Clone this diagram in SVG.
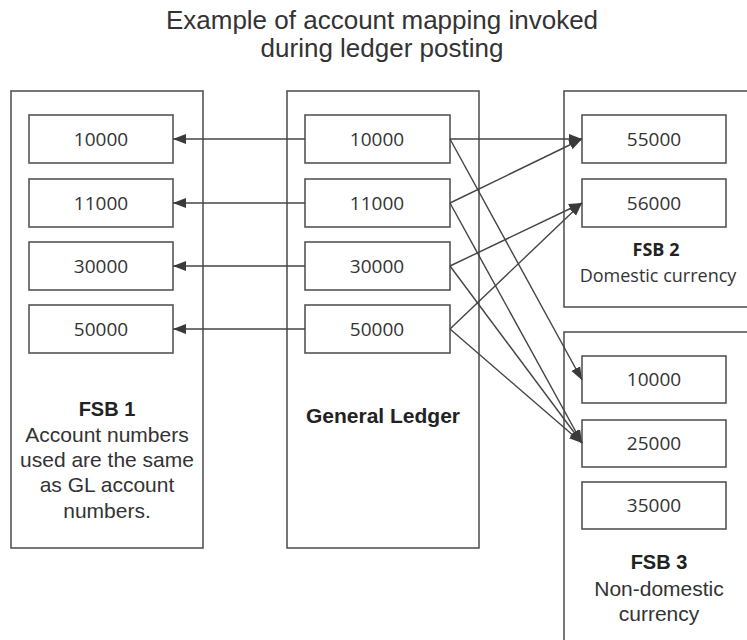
<svg xmlns="http://www.w3.org/2000/svg" width="747" height="640" viewBox="0 0 747 640">
<style>
.outer{fill:#fff;stroke:#555;stroke-width:1.6}
.box{fill:#fff;stroke:#555;stroke-width:1.6}
.num{font-family:"Open Sans","DejaVu Sans",sans-serif;font-size:19px;fill:#333;text-anchor:middle}
.seg{font-family:"Open Sans","DejaVu Sans",sans-serif;font-size:18px;fill:#333;text-anchor:middle}
.ar{font-family:"Liberation Sans",Arial,sans-serif;font-size:21px;fill:#333;text-anchor:middle}
.b{font-weight:bold;fill:#222}
.conn path{fill:none;stroke:#444;stroke-width:1.4;marker-end:url(#ah)}
</style>
<defs>
<marker id="ah" markerUnits="userSpaceOnUse" markerWidth="14" markerHeight="12" refX="13" refY="6" orient="auto">
<path d="M0,1 L13,6 L0,11 z" fill="#3a3a3a"/>
</marker>
</defs>
<rect width="747" height="640" fill="#fff"/>
<g id="title">
<text x="382" y="29" style="font-family:'Liberation Sans',Arial,sans-serif;font-size:26px;fill:#333;text-anchor:middle">Example of account mapping invoked</text>
<text x="382" y="57" style="font-family:'Liberation Sans',Arial,sans-serif;font-size:26px;fill:#333;text-anchor:middle">during ledger posting</text>
</g>
<g id="fsb1">
<rect class="outer" x="11" y="91" width="192" height="457"/>
<rect class="box" x="29" y="115" width="144" height="48"/><text class="num" x="101" y="146">10000</text>
<rect class="box" x="29" y="179" width="144" height="48"/><text class="num" x="101" y="210">11000</text>
<rect class="box" x="29" y="242" width="144" height="48"/><text class="num" x="101" y="273">30000</text>
<rect class="box" x="29" y="305" width="144" height="48"/><text class="num" x="101" y="336">50000</text>
<text class="ar b" x="107" y="416" style="font-size:20px">FSB 1</text>
<text class="ar" x="107" y="442">Account numbers</text>
<text class="ar" x="107" y="467">used are the same</text>
<text class="ar" x="107" y="492">as GL account</text>
<text class="ar" x="107" y="518">numbers.</text>
</g>
<g id="gl">
<rect class="outer" x="287" y="91" width="192" height="457"/>
<rect class="box" x="305" y="115" width="145" height="48"/><text class="num" x="377" y="146">10000</text>
<rect class="box" x="305" y="179" width="145" height="48"/><text class="num" x="377" y="210">11000</text>
<rect class="box" x="305" y="242" width="145" height="48"/><text class="num" x="377" y="273">30000</text>
<rect class="box" x="305" y="305" width="145" height="48"/><text class="num" x="377" y="336">50000</text>
<text class="ar b" x="383" y="423">General Ledger</text>
</g>
<g id="fsb2">
<rect class="outer" x="564" y="91" width="200" height="216"/>
<rect class="box" x="582" y="115" width="144" height="48"/><text class="num" x="654" y="146">55000</text>
<rect class="box" x="582" y="179" width="144" height="48"/><text class="num" x="654" y="210">56000</text>
<text class="seg b" x="656" y="256">FSB 2</text>
<text class="seg" x="658" y="282">Domestic currency</text>
</g>
<g id="fsb3">
<rect class="outer" x="564" y="332" width="200" height="320"/>
<rect class="box" x="582" y="356" width="144" height="47"/><text class="num" x="654" y="386">10000</text>
<rect class="box" x="582" y="420" width="144" height="47"/><text class="num" x="654" y="450">25000</text>
<rect class="box" x="582" y="482" width="144" height="47"/><text class="num" x="654" y="512">35000</text>
<text class="ar b" x="659" y="569" style="font-size:20px">FSB 3</text>
<text class="ar" x="659" y="596">Non-domestic</text>
<text class="ar" x="659" y="621">currency</text>
</g>
<g id="connectors" class="conn">
<path d="M305,139 L173,139"/>
<path d="M305,203 L173,203"/>
<path d="M305,266 L173,266"/>
<path d="M305,329 L173,329"/>
<path d="M450,139 L582,139"/>
<path d="M450,139 L582,380"/>
<path d="M450,203 L582,139"/>
<path d="M450,203 L582,443"/>
<path d="M450,266 L582,203"/>
<path d="M450,266 L582,443"/>
<path d="M450,329 L582,203"/>
<path d="M450,329 L582,443"/>
</g>
</svg>
